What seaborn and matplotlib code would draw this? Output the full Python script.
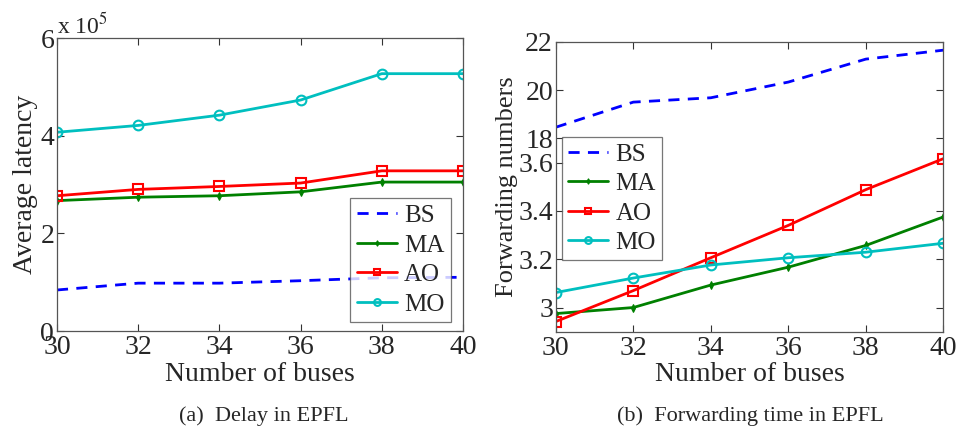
import numpy as np
import seaborn as sns
import matplotlib
matplotlib.use("Agg")
import matplotlib.pyplot as plt

# data
buses = [30, 32, 34, 36, 38, 40]

# (a) delay, in units of 1e5
delay_bs = [0.84, 0.98, 0.98, 1.03, 1.09, 1.10]
delay_ma = [2.67, 2.74, 2.77, 2.85, 3.05, 3.05]
delay_ao = [2.77, 2.90, 2.96, 3.03, 3.28, 3.28]
delay_mo = [4.07, 4.21, 4.42, 4.73, 5.27, 5.27]

# (b) forwarding numbers
fwd_bs = [18.46, 19.5, 19.68, 20.33, 21.28, 21.65]
fwd_ma = [2.975, 3.00, 3.093, 3.167, 3.257, 3.375]
fwd_ao = [2.942, 3.07, 3.206, 3.34, 3.488, 3.616]
fwd_mo = [3.062, 3.122, 3.176, 3.206, 3.229, 3.266]

labels = ["BS", "MA", "AO", "MO"]

sns.set_theme(style="white")
plt.rcParams["font.family"] = ["Liberation Serif", "DejaVu Serif"]
plt.rcParams["mathtext.fontset"] = "stix"

styles = {
    "BS": dict(color="#0000ff", linestyle=(0, (4, 3)), marker=None),
    "MA": dict(color="#008000", linestyle="-", marker="d", markersize=4,
               markerfacecolor="#008000", markeredgecolor="#008000"),
    "AO": dict(color="#ff0000", linestyle="-", marker="s", markersize=7,
               markerfacecolor="none", markeredgecolor="#ff0000", markeredgewidth=1.5),
    "MO": dict(color="#00bfbf", linestyle="-", marker="o", markersize=7,
               markerfacecolor="none", markeredgecolor="#00bfbf", markeredgewidth=1.5),
}


# the broken y axis in (b): BS is drawn on a compressed scale above 3.6
def bs_to_axis(v):
    return 3.7 + (np.asarray(v) - 18) * 0.1


fig = plt.figure(figsize=(9.59, 4.30), dpi=100)
ax1 = fig.add_axes([0.0594, 0.2302, 0.4234, 0.6814])
ax2 = fig.add_axes([0.5795, 0.2286, 0.4042, 0.6744])

for name, vals in zip(labels, [delay_bs, delay_ma, delay_ao, delay_mo]):
    sns.lineplot(x=buses, y=vals, ax=ax1, label=name, linewidth=2, **styles[name])

fwd_plot = [bs_to_axis(fwd_bs), fwd_ma, fwd_ao, fwd_mo]
for name, vals in zip(labels, fwd_plot):
    sns.lineplot(x=buses, y=vals, ax=ax2, label=name, linewidth=2, **styles[name])

for ax in (ax1, ax2):
    ax.set_xlim(30, 40)
    ax.set_xticks(buses)
    ax.tick_params(axis="both", direction="in", length=5, width=0.8, color="#333333",
                   labelsize=20, top=True, right=True, bottom=True, left=True, pad=2)
    ax.tick_params(axis="x", pad=3)
    for sp in ax.spines.values():
        sp.set_color("#555555")
        sp.set_linewidth(0.9)
    ax.set_xlabel("Number of buses", fontsize=20, labelpad=1)

ax1.set_ylim(0, 6)
ax1.set_yticks([0, 2, 4, 6])
ax1.set_ylabel("Average latency", fontsize=20, labelpad=2)
ax1.text(0.0, 1.0, r"x 10$^5$", transform=ax1.transAxes, fontsize=17, va="bottom", ha="left")

ax2.set_ylim(2.9, 4.1)
ax2.set_yticks([3.0, 3.2, 3.4, 3.6, 3.7, 3.9, 4.1])
ax2.set_yticklabels(["3", "3.2", "3.4", "3.6", "18", "20", "22"])
ax2.set_ylabel("Forwarding numbers", fontsize=19, labelpad=0)

leg_kw = dict(fontsize=18, frameon=True, fancybox=False, handlelength=1.6,
              borderpad=0.25, labelspacing=0.28, handletextpad=0.3, borderaxespad=0.0,
              markerscale=0.7)
leg1 = ax1.legend(loc="lower right", bbox_to_anchor=(0.970, 0.031), **leg_kw)
leg2 = ax2.legend(loc="upper left", bbox_to_anchor=(0.0155, 0.672), **leg_kw)
for leg in (leg1, leg2):
    leg.get_frame().set_edgecolor("#555555")
    leg.get_frame().set_linewidth(0.9)

fig.text(0.2755, 0.02, "(a)  Delay in EPFL", ha="center", fontsize=16)
fig.text(0.782, 0.02, "(b)  Forwarding time in EPFL", ha="center", fontsize=16)

fig.savefig("out.png", dpi=100)
